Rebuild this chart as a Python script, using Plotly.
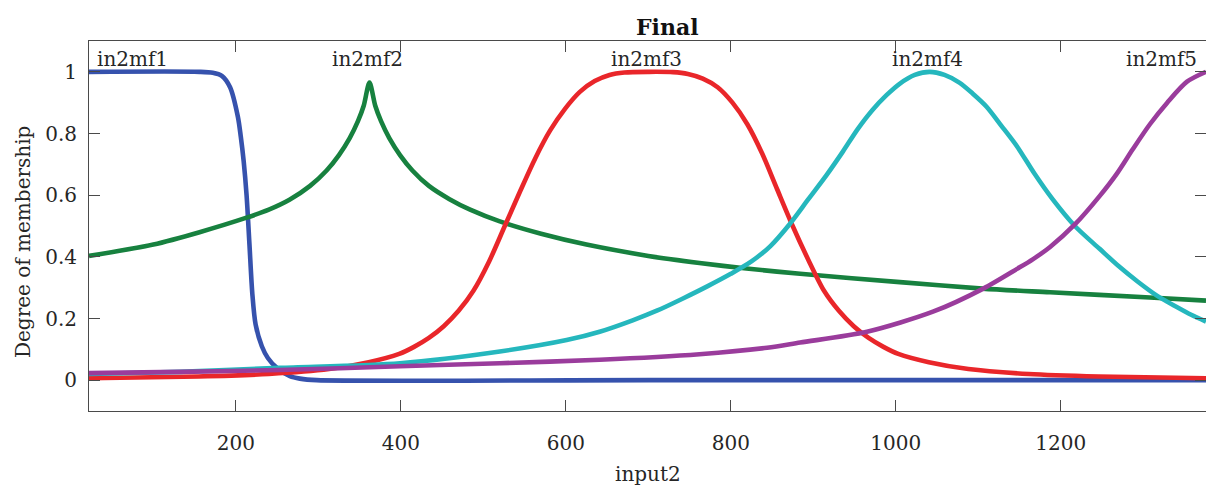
import plotly.graph_objects as go

# Membership functions of input2 (values sampled along the universe of discourse)
mf1_x = [22, 156, 172, 183, 193, 202.4, 206, 209.5, 213, 216.5, 220, 224, 231.5, 238.8, 249.7, 265.5, 277.6, 298, 700, 1376]
mf1_y = [1.0, 1.0, 0.997, 0.987, 0.95, 0.855, 0.79, 0.71, 0.6, 0.44, 0.28, 0.18, 0.11, 0.072, 0.04, 0.013, 0.005, 0.0, 0.0, 0.0]

mf2_x = [22, 100, 156, 213, 240, 265, 290, 310, 325, 338, 348, 355, 362, 369, 376, 386, 399, 414, 434, 459, 484, 520, 570, 625, 700, 762, 819, 884, 1005, 1105, 1187, 1308, 1376]
mf2_y = [0.403, 0.44, 0.48, 0.527, 0.553, 0.585, 0.63, 0.68, 0.73, 0.785, 0.84, 0.89, 0.965, 0.89, 0.84, 0.785, 0.73, 0.68, 0.63, 0.587, 0.553, 0.515, 0.475, 0.44, 0.403, 0.38, 0.362, 0.345, 0.318, 0.297, 0.285, 0.268, 0.258]

mf3_x = [22, 155, 240, 313, 361, 398, 416, 434, 452, 470, 488, 507, 526, 545, 563, 581, 599, 617, 635, 653, 671, 701, 730, 748, 766, 784, 802, 820, 838, 856, 875, 894, 913, 931, 949, 967, 985, 1003, 1040, 1088, 1161, 1246, 1376]
mf3_y = [0.006, 0.012, 0.02, 0.036, 0.058, 0.085, 0.108, 0.137, 0.175, 0.225, 0.29, 0.385, 0.5, 0.615, 0.72, 0.81, 0.88, 0.935, 0.97, 0.99, 0.998, 1.0, 0.999, 0.993, 0.978, 0.95, 0.9, 0.83, 0.735, 0.62, 0.5, 0.39, 0.29, 0.225, 0.175, 0.137, 0.108, 0.085, 0.058, 0.036, 0.02, 0.012, 0.006]

mf4_x = [22, 132, 253, 399, 520, 601, 641, 681, 711, 742, 772, 800, 825, 848, 871, 894, 916, 936, 954, 972, 989, 1005, 1023, 1041, 1059, 1077, 1093, 1110, 1128, 1147, 1168, 1190, 1217, 1247, 1270, 1293, 1316, 1340, 1358, 1376]
mf4_y = [0.02, 0.027, 0.04, 0.055, 0.093, 0.13, 0.157, 0.194, 0.226, 0.265, 0.305, 0.345, 0.385, 0.435, 0.505, 0.587, 0.665, 0.742, 0.815, 0.877, 0.925, 0.962, 0.99, 1.0, 0.99, 0.965, 0.93, 0.887, 0.825, 0.758, 0.67, 0.587, 0.5, 0.426, 0.37, 0.32, 0.275, 0.238, 0.212, 0.19]

mf5_x = [22, 132, 253, 399, 520, 641, 762, 844, 884, 965, 1045, 1106, 1147, 1166, 1187, 1217, 1247, 1268, 1287, 1308, 1329, 1353, 1376]
mf5_y = [0.023, 0.027, 0.033, 0.045, 0.055, 0.066, 0.084, 0.105, 0.122, 0.157, 0.222, 0.297, 0.361, 0.392, 0.432, 0.505, 0.597, 0.67, 0.748, 0.83, 0.9, 0.968, 1.0]

mf_names = ["in2mf1", "in2mf2", "in2mf3", "in2mf4", "in2mf5"]
mf_colors = ["#3652ad", "#17813f", "#e9262a", "#25b7bd", "#9a3c9c"]
# label anchor positions along input2
label_x = [30, 359, 698, 1039, 1366]
label_anchor = ["left", "center", "center", "center", "right"]

x_ticks = [200, 400, 600, 800, 1000, 1200]
y_ticks = [0, 0.2, 0.4, 0.6, 0.8, 1]
y_tick_text = ["0", "0.2", "0.4", "0.6", "0.8", "1"]

FONT = "DejaVu Serif"
TXT = "#262626"
AX = "#4a4a4a"

fig = go.Figure()
series = [(mf1_x, mf1_y), (mf2_x, mf2_y), (mf3_x, mf3_y), (mf4_x, mf4_y), (mf5_x, mf5_y)]
for (xs, ys), name, col in zip(series, mf_names, mf_colors):
    fig.add_trace(go.Scatter(x=xs, y=ys, mode="lines", name=name,
                             line=dict(color=col, width=4.6, shape="spline", smoothing=0.8)))

for name, lx, anc in zip(mf_names, label_x, label_anchor):
    fig.add_annotation(x=lx, y=1.0, xref="x", yref="y", text=name, showarrow=False,
                       xanchor=anc, yanchor="bottom", borderpad=0,
                       font=dict(family=FONT, size=20, color=TXT))

# title, axis titles
fig.add_annotation(x=0.518, y=1.0, xref="paper", yref="paper", text="<b>Final</b>",
                   showarrow=False, xanchor="center", yanchor="bottom", yshift=-1,
                   font=dict(family=FONT, size=22, color="#111111"))
fig.add_annotation(x=0.5, y=-0.17, xref="paper", yref="paper", text="input2",
                   showarrow=False, xanchor="center", yanchor="middle",
                   font=dict(family=FONT, size=20, color=TXT))
fig.add_annotation(x=-0.059, y=0.457, xref="paper", yref="paper", text="Degree of membership",
                   showarrow=False, xanchor="center", yanchor="middle", textangle=-90,
                   font=dict(family=FONT, size=20, color=TXT))

fig.update_layout(
    width=1206, height=494,
    margin=dict(l=89, r=0, t=41, b=83),
    paper_bgcolor="white", plot_bgcolor="white",
    showlegend=False,
    xaxis=dict(range=[22, 1376], tickvals=x_ticks, ticks="inside", ticklen=11,
               tickcolor=AX, showline=True, linecolor=AX, linewidth=1, mirror="ticks",
               showgrid=False, zeroline=False, ticklabelstandoff=14,
               tickfont=dict(family=FONT, size=20, color=TXT)),
    yaxis=dict(range=[-0.1, 1.1], tickvals=y_ticks, ticktext=y_tick_text, ticks="inside",
               ticklen=11, tickcolor=AX, showline=True, linecolor=AX, linewidth=1,
               mirror="ticks", showgrid=False, zeroline=False, ticklabelstandoff=7,
               tickfont=dict(family=FONT, size=20, color=TXT)),
)

fig.write_html("out.html")
